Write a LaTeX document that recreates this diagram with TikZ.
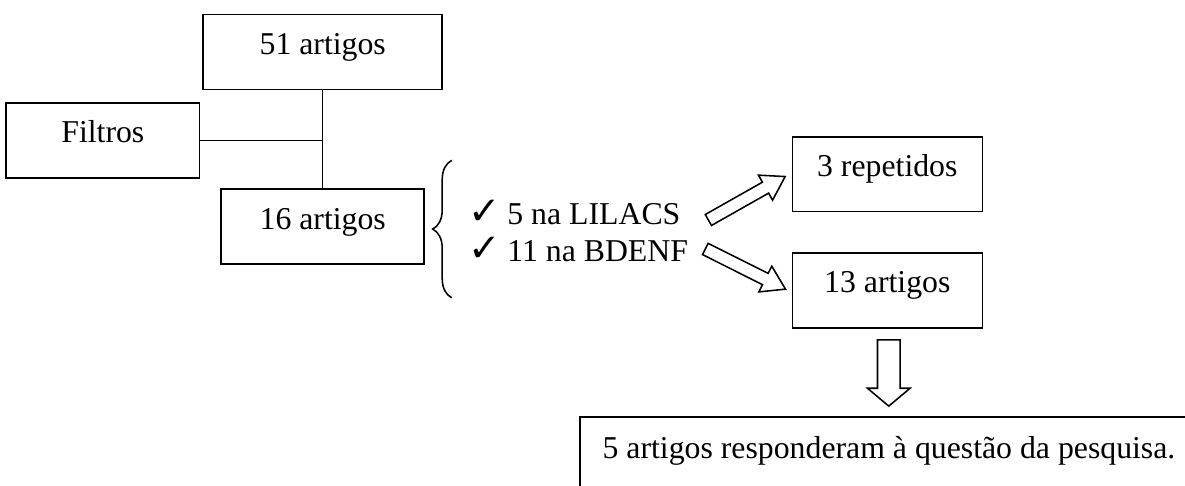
\documentclass[tikz,border=0pt]{standalone}
\usepackage{fontspec}
\setmainfont{Liberation Serif}
\newfontfamily\symfont{DejaVu Sans}
\usepackage{tikz}
\usetikzlibrary{positioning, shapes.arrows, calc, decorations.pathreplacing}

\newcommand{\tick}{{\symfont\fontsize{15}{14.4}\selectfont ✓}\hspace{2.5pt}}

\begin{document}
\begin{tikzpicture}[
    node distance=0.8cm,
    font=\fontsize{12.3}{14.4}\selectfont,
    box/.style={rectangle, draw, line width=0.6pt, minimum height=1.02cm, text height=0.3cm, text depth=0.232cm, align=center},
    hollow/.style={single arrow, draw, line width=0.6pt, inner xsep=0pt, single arrow head indent=0pt},
    link/.style={line width=0.6pt},
]

\useasboundingbox (0,0) rectangle (16.12,-6.60);
\clip (0,0) rectangle (16.12,-6.60);

\node[box, minimum width=3.25cm] (top) at (4.39,-0.71) {51 artigos};
\node[box, minimum width=2.63cm, below left=0.16cm and 0.03cm of top.south west] (filtros) {Filtros};
\node[box, minimum width=2.76cm, below=1.33cm of top] (sixteen) {16 artigos};

\node[inner sep=0pt, align=flush left, right=0.585cm of sixteen, yshift=-0.06cm] (list)
    {\tick 5 na LILACS\\\tick 11 na BDENF};
\coordinate (braceTop) at ($(list.west)+(-0.22,0.96)$);
\coordinate (braceBot) at ($(list.west)+(-0.22,-0.91)$);

\node[box, minimum width=2.585cm] (repeated) at (12.07,-2.37) {3 repetidos};
\node[box, minimum width=2.585cm, below=0.54cm of repeated] (thirteen) {13 artigos};

\node[hollow, minimum height=1.2cm, inner ysep=0.075cm, single arrow head extend=0.11cm, single arrow tip angle=65, rotate=29.5] (upArrow) at (10.10,-2.73) {};
\node[hollow, minimum height=1.22cm, inner ysep=0.075cm, single arrow head extend=0.11cm, single arrow tip angle=65, rotate=-26.6] (lowArrow) at (10.08,-3.63) {};
\node[hollow, minimum height=0.9cm, inner ysep=0.143cm, single arrow head extend=0.136cm, single arrow tip angle=100, rotate=-90] (downArrow) at (12.09,-5.01) {};

\node[draw, line width=0.6pt, anchor=north west, text width=7.9cm, align=flush left, inner xsep=0.31cm, inner ysep=0.3cm, text height=0.26cm, text depth=0.3cm] (final) at (7.877,-5.66) {5 artigos responderam à questão da pesquisa.};

\draw[link] (top) -- (sixteen);
\draw[link] (filtros) -- (filtros -| top);
\draw[link, decorate, decoration={brace, amplitude=0.26cm}] (braceBot) -- (braceTop);

\end{tikzpicture}
\end{document}
